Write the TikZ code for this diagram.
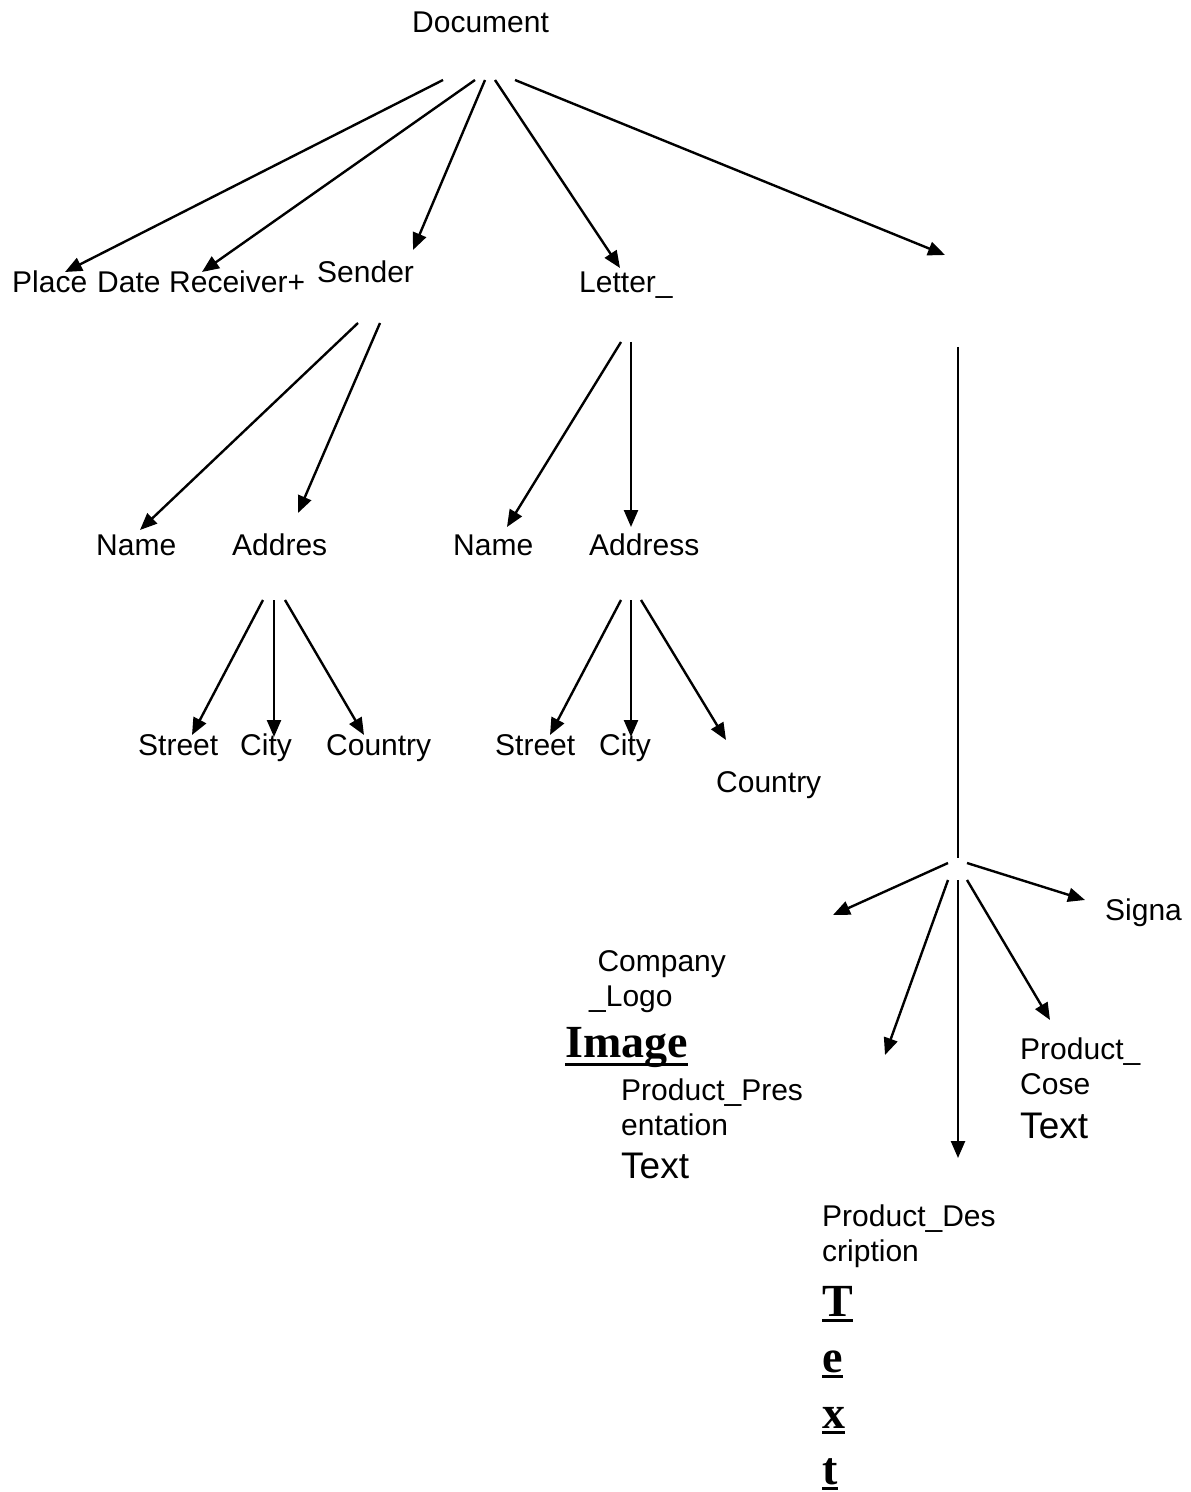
\documentclass[tikz,border=0pt]{standalone}
\usepackage{fontspec}
\setmainfont{Liberation Sans}
\newfontfamily\tmsfont{Liberation Serif}
\usetikzlibrary{arrows.meta}
% underline set at a given depth below the baseline
\newcommand\ulbox[2]{\setbox0\hbox{#2}\rlap{\rule[-#1]{\wd0}{1.4pt}}\box0}

\begin{document}
\begin{tikzpicture}[x=0.5pt,y=-0.5pt,>={Triangle[length=8.5pt,width=7pt]},line width=1.2pt,
  lbl/.style={inner sep=0pt,anchor=base west,font=\fontsize{15}{17.5}\selectfont},
  twoline/.style={lbl,align=left},
  txt/.style={inner sep=0pt,anchor=base west,font=\fontsize{18.5}{22}\selectfont},
  bold/.style={inner sep=0pt,anchor=base west,align=left,font=\tmsfont\bfseries\fontsize{23}{28}\selectfont}]
\useasboundingbox (0,0) rectangle (1190,1492);
% top row
\node[lbl] (doc) at (411,33) {Document};
\node[lbl] (place) at (11,293) {Place};
\node[lbl] (date) at (96,293) {Date};
\node[lbl] (recv) at (168,293) {Receiver+};
\node[lbl] (sender) at (316,283) {Sender};
\node[lbl] (letter) at (578,293) {Letter\_};
% sender and letter parts
\node[lbl] (name1) at (95,555) {Name};
\node[lbl] (addr1) at (231,555) {Addres};
\node[lbl] (name2) at (452,555) {Name};
\node[lbl] (addr2) at (588,555) {Address};
\node[lbl] (street1) at (137,755) {Street};
\node[lbl] (city1) at (239,755) {City};
\node[lbl] (country1) at (325,755) {Country};
\node[lbl] (street2) at (494,755) {Street};
\node[lbl] (city2) at (598,755) {City};
\node[lbl] (country2) at (715,792) {Country};
% body parts (multi-line nodes sit on their last line)
\node[lbl] (signa) at (1104,920) {Signa};
\node[twoline] (logo) at (588,1006) {~Company\\\_Logo};
\node[bold] (image) at (564,1057) {\ulbox{4.4pt}{Image}};
\node[twoline] (pres) at (620,1135) {Product\_Pres\\entation};
\node[txt] (presText) at (620,1178) {Text};
\node[twoline] (cose) at (1019,1094) {Product\_\\Cose};
\node[txt] (coseText) at (1019,1138) {Text};
\node[twoline] (desc) at (821,1261) {Product\_Des\\cription};
\node[bold] (descText) at (821,1484) {\ulbox{3pt}{T}\\\ulbox{3pt}{e}\\\ulbox{3pt}{x}\\\ulbox{3pt}{t}};
% arrow ends
\coordinate (docA) at (443,80);
\coordinate (docB) at (475,80);
\coordinate (docC) at (485,80);
\coordinate (docD) at (495,80);
\coordinate (docE) at (515,80);
\coordinate (toPlace) at (65,272);
\coordinate (toRecv) at (202,272);
\coordinate (toSender) at (413,250);
\coordinate (toLetter) at (620,268);
\coordinate (toBody) at (945,255);
\coordinate (senA) at (358,323);
\coordinate (senB) at (380,323);
\coordinate (toName1) at (140,530);
\coordinate (toAddr1) at (298,513);
\coordinate (letA) at (621,342);
\coordinate (letB) at (631,342);
\coordinate (toName2) at (507,527);
\coordinate (toAddr2) at (631,527);
\coordinate (adA) at (263,600);
\coordinate (adB) at (274,600);
\coordinate (adC) at (285,600);
\coordinate (toStreet1) at (192,735);
\coordinate (toCity1) at (274,737);
\coordinate (toCountry1) at (364,735);
\coordinate (adD) at (621,600);
\coordinate (adE) at (631,600);
\coordinate (adF) at (641,600);
\coordinate (toStreet2) at (550,735);
\coordinate (toCity2) at (631,737);
\coordinate (toCountry2) at (726,740);
\coordinate (bodyTop) at (958,347);
\coordinate (bodyJoin) at (958,858);
\coordinate (bodyA) at (948,863);
\coordinate (bodyB) at (948,880);
\coordinate (bodyC) at (958,880);
\coordinate (bodyD) at (967,880);
\coordinate (bodyE) at (967,863);
\coordinate (toLogo) at (833,915);
\coordinate (toPres) at (885,1055);
\coordinate (toDesc) at (958,1158);
\coordinate (toCose) at (1050,1020);
\coordinate (toSigna) at (1085,900);
% connectors
\draw[->] (docA) -- (toPlace);
\draw[->] (docB) -- (toRecv);
\draw[->] (docC) -- (toSender);
\draw[->] (docD) -- (toLetter);
\draw[->] (docE) -- (toBody);
\draw[->] (senA) -- (toName1);
\draw[->] (senB) -- (toAddr1);
\draw[->] (letA) -- (toName2);
\draw[->] (letB) -- (toAddr2);
\draw[->] (adA) -- (toStreet1);
\draw[->] (adB) -- (toCity1);
\draw[->] (adC) -- (toCountry1);
\draw[->] (adD) -- (toStreet2);
\draw[->] (adE) -- (toCity2);
\draw[->] (adF) -- (toCountry2);
\draw (bodyTop) -- (bodyJoin);
\draw[->] (bodyA) -- (toLogo);
\draw[->] (bodyB) -- (toPres);
\draw[->] (bodyC) -- (toDesc);
\draw[->] (bodyD) -- (toCose);
\draw[->] (bodyE) -- (toSigna);
\end{tikzpicture}
\end{document}
